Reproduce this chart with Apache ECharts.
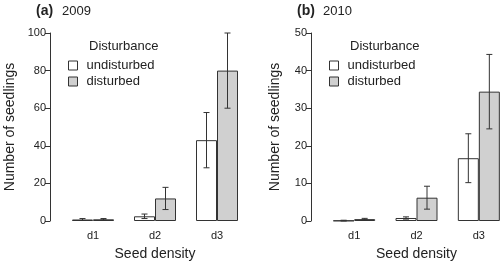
<!DOCTYPE html>
<html><head><meta charset="utf-8">
<script src="https://cdn.jsdelivr.net/npm/echarts@6/dist/echarts.min.js"></script>
<style>html,body{margin:0;padding:0;background:#fff}#c{width:502px;height:261px}</style>
</head><body><div id="c"></div>
<script>
var categories = ['d1', 'd2', 'd3'];
var undist2009 = [0.8, 2.5, 43];
var undist2009Err = [0.5, 1.2, 14.7];
var dist2009 = [0.9, 12, 80];
var dist2009Err = [0.4, 5.9, 20];
var undist2010 = [0.1, 0.8, 16.7];
var undist2010Err = [0.1, 0.3, 6.5];
var dist2010 = [0.5, 6.2, 34.4];
var dist2010Err = [0.2, 3.05, 9.9];
var yMax = [100, 50];
var yInterval = [20, 10];
var panelTitles = [['(a)', '2009'], ['(b)', '2010']];

var FONT = "'Liberation Sans', Arial, Helvetica, sans-serif";
var TXT = '#222';
var LINE = '#333';
var BW = 21;

function errItem(side) {
  return function (params, api) {
    var c = api.value(0), v = api.value(1), e = api.value(2);
    var p = api.coord([c, v]);
    var hi = api.coord([c, v + e]);
    var lo = api.coord([c, Math.max(v - e, 0)]);
    var x = p[0] + side * BW / 2;
    var cap = 3;
    var st = { stroke: LINE, lineWidth: 1 };
    return { type: 'group', children: [
      { type: 'line', shape: { x1: x, y1: hi[1], x2: x, y2: lo[1] }, style: st },
      { type: 'line', shape: { x1: x - cap, y1: hi[1], x2: x + cap, y2: hi[1] }, style: st },
      { type: 'line', shape: { x1: x - cap, y1: lo[1], x2: x + cap, y2: lo[1] }, style: st }
    ]};
  };
}
function errData(vals, errs) {
  return vals.map(function (v, i) { return [i, v, errs[i]]; });
}

var chart = echarts.init(document.getElementById('c'), null, { renderer: 'canvas' });
var grids = [
  { left: 62, top: 33, width: 186, bottom: 40, containLabel: false, outerBoundsMode: 'none' },
  { left: 323, top: 33, width: 187, bottom: 40, containLabel: false, outerBoundsMode: 'none' }
];
var xAxes = [], yAxes = [], series = [], legends = [], graphics = [];
var sets = [
  [undist2009, undist2009Err, dist2009, dist2009Err],
  [undist2010, undist2010Err, dist2010, dist2010Err]
];
var nameGaps = [33, 29];
for (var g = 0; g < 2; g++) {
  xAxes.push({
    type: 'category', gridIndex: g, data: categories,
    axisLine: { show: false }, axisTick: { show: false },
    axisLabel: { color: TXT, fontSize: 11, fontFamily: FONT, margin: 9 },
    name: 'Seed density', nameLocation: 'middle', nameGap: 26,
    nameTextStyle: { color: TXT, fontSize: 14, fontFamily: FONT }
  });
  yAxes.push({
    type: 'value', gridIndex: g, min: 0, max: yMax[g], interval: yInterval[g], offset: 12,
    axisLine: { show: true, lineStyle: { color: LINE, width: 1 } },
    axisTick: { show: true, length: 5, lineStyle: { color: LINE } },
    axisLabel: { color: TXT, fontSize: 11, fontFamily: FONT, margin: 4 },
    splitLine: { show: false },
    name: 'Number of seedlings', nameLocation: 'middle', nameGap: nameGaps[g],
    nameTextStyle: { color: TXT, fontSize: 14, fontFamily: FONT }
  });
  var s = sets[g];
  series.push({
    name: 'undisturbed', type: 'bar', xAxisIndex: g, yAxisIndex: g, data: s[0],
    barWidth: BW, barGap: '0%',
    itemStyle: { color: '#ffffff', borderColor: LINE, borderWidth: 1 }
  });
  series.push({
    name: 'disturbed', type: 'bar', xAxisIndex: g, yAxisIndex: g, data: s[2],
    barWidth: BW, barGap: '0%',
    itemStyle: { color: '#d0d0d0', borderColor: LINE, borderWidth: 1 }
  });
  series.push({
    type: 'custom', xAxisIndex: g, yAxisIndex: g, data: errData(s[0], s[1]),
    renderItem: errItem(-1), encode: { x: 0, y: 1 }, z: 5
  });
  series.push({
    type: 'custom', xAxisIndex: g, yAxisIndex: g, data: errData(s[2], s[3]),
    renderItem: errItem(1), encode: { x: 0, y: 1 }, z: 5
  });
  var lx = g === 0 ? 68 : 329;
  legends.push({
    data: [
      { name: 'undisturbed', icon: 'rect', itemStyle: { color: '#ffffff', borderColor: LINE, borderWidth: 1 } },
      { name: 'disturbed', icon: 'rect', itemStyle: { color: '#d0d0d0', borderColor: LINE, borderWidth: 1 } }
    ],
    orient: 'vertical', left: lx, top: 59, padding: 0,
    itemWidth: 9, itemHeight: 9, itemGap: 3, selectedMode: false,
    textStyle: { color: TXT, fontSize: 13, fontFamily: FONT, padding: [0, 0, 0, 4] }
  });
  graphics.push({
    type: 'text', left: lx + 21, top: 40,
    style: { text: 'Disturbance', fill: TXT, fontSize: 13, fontFamily: FONT }
  });
  var tx = g === 0 ? 36 : 297;
  graphics.push({
    type: 'text', left: tx, top: 4,
    style: { text: panelTitles[g][0], fill: TXT, fontSize: 14, fontWeight: 'bold', fontFamily: FONT }
  });
  graphics.push({
    type: 'text', left: tx + 26, top: 5,
    style: { text: panelTitles[g][1], fill: TXT, fontSize: 13, fontFamily: FONT }
  });
}
chart.setOption({
  animation: false,
  grid: grids, xAxis: xAxes, yAxis: yAxes, series: series,
  legend: legends, graphic: graphics
});
</script></body></html>
